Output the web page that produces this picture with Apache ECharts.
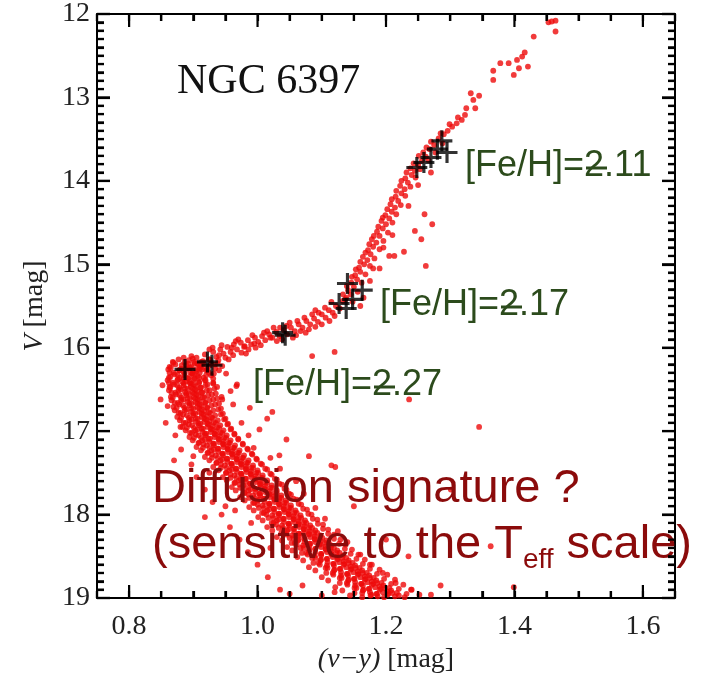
<!DOCTYPE html>
<html><head><meta charset="utf-8">
<script src="https://cdn.jsdelivr.net/npm/echarts@6/dist/echarts.min.js"></script>
<style>html,body{margin:0;padding:0;background:#fff}#c{width:701px;height:679px}</style>
</head><body><div id="c"></div>
<script>
const xMajorTicks=[0.8,1.0,1.2,1.4,1.6];
const xMinorTicks=[0.75,0.85,0.9,0.95,1.05,1.1,1.15,1.25,1.3,1.35,1.45,1.5,1.55,1.65];
const yMajorTicks=[12,13,14,15,16,17,18,19];
const yMinorTicks=[12.1,12.2,12.3,12.4,12.5,12.6,12.7,12.8,12.9,13.1,13.2,13.3,13.4,13.5,13.6,13.7,13.8,13.9,
14.1,14.2,14.3,14.4,14.5,14.6,14.7,14.8,14.9,15.1,15.2,15.3,15.4,15.5,15.6,15.7,15.8,15.9,
16.1,16.2,16.3,16.4,16.5,16.6,16.7,16.8,16.9,17.1,17.2,17.3,17.4,17.5,17.6,17.7,17.8,17.9,
18.1,18.2,18.3,18.4,18.5,18.6,18.7,18.8,18.9];
const xMin=0.75, xMax=1.65, xMinorStep=0.05, yMin=12, yMax=19, yMajorStep=1, yMinorSplit=10;

// main sequence / turnoff (v-y, V)
const mainSequence=[
[0.868,16.17],[0.877,16.14],[0.886,16.18],[0.893,16.15],[0.899,16.13],[0.906,16.19],[0.915,16.16],[0.926,16.14],
[0.863,16.23],[0.872,16.20],[0.881,16.25],[0.889,16.21],[0.895,16.24],[0.902,16.19],[0.911,16.22],[0.921,16.25],[0.934,16.20],
[0.861,16.26],[0.869,16.30],[0.878,16.27],[0.885,16.29],[0.891,16.25],[0.898,16.31],[0.905,16.28],[0.913,16.26],[0.924,16.30],[0.940,16.27],
[0.864,16.35],[0.871,16.32],[0.879,16.36],[0.886,16.33],[0.892,16.37],[0.899,16.31],[0.907,16.34],[0.916,16.36],[0.928,16.33],
[0.860,16.39],[0.868,16.42],[0.876,16.38],[0.883,16.41],[0.889,16.40],[0.895,16.43],[0.902,16.37],[0.909,16.41],[0.918,16.39],[0.931,16.42],
[0.863,16.47],[0.870,16.44],[0.878,16.48],[0.885,16.45],[0.891,16.49],[0.897,16.43],[0.904,16.46],[0.912,16.48],[0.922,16.44],[0.937,16.47],
[0.862,16.51],[0.872,16.54],[0.880,16.50],[0.887,16.53],[0.893,16.55],[0.899,16.49],[0.906,16.52],[0.914,16.54],[0.925,16.51],
[0.865,16.59],[0.873,16.56],[0.881,16.60],[0.889,16.57],[0.895,16.61],[0.901,16.55],[0.908,16.58],[0.917,16.60],[0.929,16.56],[0.944,16.59],
[0.866,16.63],[0.876,16.66],[0.884,16.62],[0.891,16.65],[0.897,16.67],[0.903,16.61],[0.910,16.64],[0.919,16.66],[0.931,16.62],
[0.869,16.71],[0.878,16.68],[0.886,16.72],[0.894,16.69],[0.900,16.73],[0.906,16.67],[0.913,16.70],[0.922,16.72],[0.934,16.68],
[0.871,16.75],[0.880,16.78],[0.889,16.74],[0.896,16.77],[0.903,16.79],[0.909,16.73],[0.917,16.76],[0.926,16.78],[0.939,16.74],
[0.875,16.83],[0.884,16.80],[0.893,16.84],[0.900,16.81],[0.907,16.85],[0.913,16.79],[0.921,16.82],[0.930,16.84],[0.943,16.80],
[0.879,16.87],[0.888,16.90],[0.897,16.86],[0.904,16.89],[0.911,16.91],[0.917,16.85],[0.925,16.88],[0.935,16.90],[0.948,16.86],
[0.883,16.95],[0.893,16.92],[0.901,16.96],[0.909,16.93],[0.915,16.97],[0.922,16.91],[0.930,16.94],[0.940,16.96],[0.953,16.92],
[0.888,16.99],[0.898,17.02],[0.906,16.98],[0.914,17.01],[0.920,17.03],[0.927,16.97],[0.935,17.00],[0.945,17.02],[0.958,16.98],
[0.894,17.07],[0.904,17.04],[0.912,17.08],[0.919,17.05],[0.926,17.09],[0.933,17.03],[0.941,17.06],[0.951,17.08],[0.964,17.04],
[0.899,17.11],[0.909,17.14],[0.918,17.10],[0.925,17.13],[0.932,17.15],[0.939,17.09],[0.947,17.12],[0.957,17.14],[0.970,17.10],
[0.905,17.19],[0.916,17.16],[0.925,17.20],[0.932,17.17],[0.939,17.21],[0.946,17.15],[0.954,17.18],[0.964,17.20],[0.977,17.16],
[0.912,17.23],[0.923,17.26],[0.932,17.22],[0.939,17.25],[0.946,17.27],[0.953,17.21],[0.961,17.24],[0.971,17.26],[0.985,17.22],
[0.918,17.31],[0.929,17.28],[0.938,17.32],[0.946,17.29],[0.953,17.33],[0.960,17.27],[0.968,17.30],[0.978,17.32],[0.992,17.28],
[0.925,17.35],[0.936,17.38],[0.945,17.34],[0.953,17.37],[0.960,17.39],[0.967,17.33],[0.975,17.36],[0.985,17.38],[0.999,17.34],
[0.931,17.43],[0.943,17.40],[0.952,17.44],[0.960,17.41],[0.967,17.45],[0.974,17.39],[0.982,17.42],[0.993,17.44],[1.007,17.40],
[0.939,17.47],[0.951,17.50],[0.960,17.46],[0.968,17.49],[0.975,17.51],[0.982,17.45],[0.990,17.48],[1.001,17.50],[1.015,17.46],
[0.946,17.55],[0.958,17.52],[0.967,17.56],[0.975,17.53],[0.982,17.57],[0.989,17.51],[0.997,17.54],[1.008,17.56],[1.022,17.52],
[0.952,17.59],[0.964,17.62],[0.974,17.58],[0.982,17.61],[0.989,17.63],[0.996,17.57],[1.004,17.60],[1.015,17.62],[1.030,17.58],
[0.960,17.67],[0.972,17.64],[0.982,17.68],[0.990,17.65],[0.997,17.69],[1.004,17.63],[1.012,17.66],[1.023,17.68],[1.038,17.64],
[0.966,17.71],[0.979,17.74],[0.989,17.70],[0.997,17.73],[1.004,17.75],[1.011,17.69],[1.019,17.72],[1.030,17.74],[1.045,17.70],
[0.973,17.79],[0.986,17.76],[0.996,17.80],[1.004,17.77],[1.011,17.81],[1.018,17.75],[1.026,17.78],[1.037,17.80],[1.052,17.76],
[0.980,17.83],[0.993,17.86],[1.003,17.82],[1.011,17.85],[1.019,17.87],[1.026,17.81],[1.034,17.84],[1.045,17.86],[1.061,17.82],
[0.987,17.91],[1.000,17.88],[1.010,17.92],[1.018,17.89],[1.026,17.93],[1.033,17.87],[1.041,17.90],[1.052,17.92],[1.068,17.88],
[0.994,17.95],[1.007,17.98],[1.018,17.94],[1.026,17.97],[1.034,17.99],[1.041,17.93],[1.049,17.96],[1.061,17.98],[1.077,17.94],
[1.001,18.03],[1.014,18.00],[1.025,18.04],[1.033,18.01],[1.041,18.05],[1.048,17.99],[1.056,18.02],[1.068,18.04],[1.084,18.00],
[1.008,18.07],[1.022,18.10],[1.033,18.06],[1.041,18.09],[1.049,18.11],[1.056,18.05],[1.064,18.08],[1.076,18.10],[1.093,18.06],
[1.015,18.15],[1.029,18.12],[1.040,18.16],[1.049,18.13],[1.057,18.17],[1.064,18.11],[1.073,18.14],[1.085,18.16],[1.102,18.12],
[1.023,18.19],[1.037,18.22],[1.048,18.18],[1.057,18.21],[1.065,18.23],[1.072,18.17],[1.081,18.20],[1.093,18.22],[1.110,18.18],
[1.030,18.27],[1.045,18.24],[1.056,18.28],[1.065,18.25],[1.073,18.29],[1.080,18.23],[1.089,18.26],[1.101,18.28],[1.119,18.24],
[1.038,18.31],[1.053,18.34],[1.064,18.30],[1.073,18.33],[1.082,18.35],[1.089,18.29],[1.098,18.32],[1.111,18.34],[1.129,18.30],
[1.046,18.39],[1.061,18.36],[1.072,18.40],[1.081,18.37],[1.090,18.41],[1.097,18.35],[1.106,18.38],[1.119,18.40],[1.137,18.36],
[1.054,18.43],[1.069,18.46],[1.081,18.42],[1.090,18.45],[1.099,18.47],[1.106,18.41],[1.115,18.44],[1.128,18.46],[1.147,18.42],
[1.062,18.51],[1.078,18.48],[1.090,18.52],[1.099,18.49],[1.108,18.53],[1.115,18.47],[1.124,18.50],[1.138,18.52],[1.157,18.48],
[1.071,18.55],[1.087,18.58],[1.099,18.54],[1.109,18.57],[1.118,18.59],[1.125,18.53],[1.134,18.56],[1.148,18.58],[1.167,18.54],
[1.080,18.63],[1.097,18.60],[1.109,18.64],[1.119,18.61],[1.128,18.65],[1.135,18.59],[1.145,18.62],[1.159,18.64],[1.178,18.60],
[1.090,18.67],[1.107,18.70],[1.120,18.66],[1.130,18.69],[1.139,18.71],[1.146,18.65],[1.156,18.68],[1.170,18.70],[1.190,18.66],
[1.100,18.75],[1.118,18.72],[1.131,18.76],[1.141,18.73],[1.150,18.77],[1.157,18.71],[1.167,18.74],[1.181,18.76],[1.202,18.72],
[1.110,18.79],[1.128,18.82],[1.142,18.78],[1.152,18.81],[1.161,18.83],[1.168,18.77],[1.178,18.80],[1.193,18.82],[1.214,18.78],
[1.121,18.87],[1.140,18.84],[1.154,18.88],[1.164,18.85],[1.173,18.89],[1.180,18.83],[1.190,18.86],[1.205,18.88],[1.227,18.84],
[1.132,18.91],[1.151,18.94],[1.165,18.90],[1.175,18.93],[1.185,18.95],[1.192,18.89],[1.202,18.92],[1.217,18.94],[1.239,18.90],
[1.144,18.97],[1.163,18.99],[1.177,18.96],[1.187,18.98],[1.197,18.99],[1.204,18.95],[1.214,18.98],[1.229,18.99],[1.252,18.96]
];
// second pass over the main sequence (denser core)
const mainSequenceCore=[
[0.869,16.18],[0.882,16.21],[0.892,16.19],[0.901,16.17],[0.908,16.20],[0.916,16.18],[0.926,16.21],[0.938,16.19],
[0.865,16.24],[0.878,16.27],[0.888,16.25],[0.897,16.23],[0.904,16.26],[0.912,16.24],[0.922,16.27],[0.934,16.25],
[0.863,16.30],[0.876,16.33],[0.886,16.31],[0.895,16.29],[0.902,16.32],[0.910,16.30],[0.920,16.33],[0.932,16.31],
[0.862,16.36],[0.875,16.39],[0.885,16.37],[0.894,16.35],[0.901,16.38],[0.909,16.36],[0.919,16.39],[0.931,16.37],
[0.862,16.42],[0.875,16.45],[0.885,16.43],[0.894,16.41],[0.901,16.44],[0.909,16.42],[0.919,16.45],[0.931,16.43],
[0.864,16.48],[0.877,16.51],[0.887,16.49],[0.896,16.47],[0.903,16.50],[0.911,16.48],[0.921,16.51],[0.933,16.49],
[0.866,16.54],[0.879,16.57],[0.889,16.55],[0.898,16.53],[0.905,16.56],[0.913,16.54],[0.923,16.57],[0.935,16.55],
[0.868,16.60],[0.881,16.63],[0.891,16.61],[0.900,16.59],[0.907,16.62],[0.915,16.60],[0.925,16.63],[0.937,16.61],
[0.871,16.66],[0.884,16.69],[0.894,16.67],[0.903,16.65],[0.910,16.68],[0.918,16.66],[0.928,16.69],[0.940,16.67],
[0.874,16.72],[0.887,16.75],[0.897,16.73],[0.906,16.71],[0.913,16.74],[0.921,16.72],[0.931,16.75],[0.943,16.73],
[0.877,16.78],[0.890,16.81],[0.900,16.79],[0.909,16.77],[0.916,16.80],[0.924,16.78],[0.934,16.81],[0.946,16.79],
[0.881,16.84],[0.894,16.87],[0.904,16.85],[0.913,16.83],[0.920,16.86],[0.928,16.84],[0.938,16.87],[0.950,16.85],
[0.885,16.90],[0.898,16.93],[0.908,16.91],[0.917,16.89],[0.924,16.92],[0.932,16.90],[0.942,16.93],[0.954,16.91],
[0.890,16.96],[0.903,16.99],[0.913,16.97],[0.922,16.95],[0.929,16.98],[0.937,16.96],[0.947,16.99],[0.959,16.97],
[0.895,17.02],[0.908,17.05],[0.918,17.03],[0.927,17.01],[0.934,17.04],[0.942,17.02],[0.952,17.05],[0.964,17.03],
[0.901,17.08],[0.914,17.11],[0.924,17.09],[0.933,17.07],[0.940,17.10],[0.948,17.08],[0.958,17.11],[0.970,17.09],
[0.908,17.14],[0.921,17.17],[0.931,17.15],[0.940,17.13],[0.947,17.16],[0.955,17.14],[0.965,17.17],[0.977,17.15],
[0.915,17.20],[0.928,17.23],[0.938,17.21],[0.947,17.19],[0.954,17.22],[0.962,17.20],[0.972,17.23],[0.984,17.21],
[0.922,17.26],[0.935,17.29],[0.945,17.27],[0.954,17.25],[0.961,17.28],[0.969,17.26],[0.979,17.29],[0.991,17.27],
[0.929,17.32],[0.942,17.35],[0.952,17.33],[0.961,17.31],[0.968,17.34],[0.976,17.32],[0.986,17.35],[0.998,17.33],
[0.936,17.38],[0.949,17.41],[0.959,17.39],[0.968,17.37],[0.975,17.40],[0.983,17.38],[0.993,17.41],[1.005,17.39],
[0.943,17.44],[0.956,17.47],[0.966,17.45],[0.975,17.43],[0.982,17.46],[0.990,17.44],[1.000,17.47],[1.012,17.45],
[0.951,17.50],[0.964,17.53],[0.974,17.51],[0.983,17.49],[0.990,17.52],[0.998,17.50],[1.008,17.53],[1.020,17.51],
[0.958,17.56],[0.971,17.59],[0.981,17.57],[0.990,17.55],[0.997,17.58],[1.005,17.56],[1.015,17.59],[1.027,17.57],
[0.965,17.62],[0.978,17.65],[0.988,17.63],[0.997,17.61],[1.004,17.64],[1.012,17.62],[1.022,17.65],[1.034,17.63],
[0.973,17.68],[0.986,17.71],[0.996,17.69],[1.005,17.67],[1.012,17.70],[1.020,17.68],[1.030,17.71],[1.042,17.69],
[0.980,17.74],[0.993,17.77],[1.003,17.75],[1.012,17.73],[1.019,17.76],[1.027,17.74],[1.037,17.77],[1.049,17.75],
[0.987,17.80],[1.000,17.83],[1.010,17.81],[1.019,17.79],[1.026,17.82],[1.034,17.80],[1.044,17.83],[1.056,17.81],
[0.995,17.86],[1.008,17.89],[1.018,17.87],[1.027,17.85],[1.034,17.88],[1.042,17.86],[1.052,17.89],[1.064,17.87],
[1.002,17.92],[1.015,17.95],[1.025,17.93],[1.034,17.91],[1.041,17.94],[1.049,17.92],[1.059,17.95],[1.071,17.93],
[1.010,17.98],[1.023,18.01],[1.033,17.99],[1.042,17.97],[1.049,18.00],[1.057,17.98],[1.067,18.01],[1.079,17.99],
[1.017,18.04],[1.030,18.07],[1.040,18.05],[1.049,18.03],[1.056,18.06],[1.064,18.04],[1.074,18.07],[1.086,18.05],
[1.025,18.10],[1.038,18.13],[1.048,18.11],[1.057,18.09],[1.064,18.12],[1.072,18.10],[1.082,18.13],[1.094,18.11],
[1.033,18.16],[1.046,18.19],[1.056,18.17],[1.065,18.15],[1.072,18.18],[1.080,18.16],[1.090,18.19],[1.102,18.17],
[1.041,18.22],[1.054,18.25],[1.064,18.23],[1.073,18.21],[1.080,18.24],[1.088,18.22],[1.098,18.25],[1.110,18.23],
[1.050,18.28],[1.063,18.31],[1.073,18.29],[1.082,18.27],[1.089,18.30],[1.097,18.28],[1.107,18.31],[1.119,18.29],
[1.058,18.34],[1.071,18.37],[1.081,18.35],[1.090,18.33],[1.097,18.36],[1.105,18.34],[1.115,18.37],[1.127,18.35],
[1.067,18.40],[1.080,18.43],[1.090,18.41],[1.099,18.39],[1.106,18.42],[1.114,18.40],[1.124,18.43],[1.136,18.41],
[1.076,18.46],[1.089,18.49],[1.099,18.47],[1.108,18.45],[1.115,18.48],[1.123,18.46],[1.133,18.49],[1.145,18.47],
[1.085,18.52],[1.098,18.55],[1.108,18.53],[1.117,18.51],[1.124,18.54],[1.132,18.52],[1.142,18.55],[1.154,18.53],
[1.095,18.58],[1.108,18.61],[1.118,18.59],[1.127,18.57],[1.134,18.60],[1.142,18.58],[1.152,18.61],[1.164,18.59],
[1.106,18.64],[1.119,18.67],[1.129,18.65],[1.138,18.63],[1.145,18.66],[1.153,18.64],[1.163,18.67],[1.175,18.65],
[1.117,18.70],[1.130,18.73],[1.140,18.71],[1.149,18.69],[1.156,18.72],[1.164,18.70],[1.174,18.73],[1.186,18.71],
[1.128,18.76],[1.141,18.79],[1.151,18.77],[1.160,18.75],[1.167,18.78],[1.175,18.76],[1.185,18.79],[1.197,18.77],
[1.139,18.82],[1.152,18.85],[1.162,18.83],[1.171,18.81],[1.178,18.84],[1.186,18.82],[1.196,18.85],[1.208,18.83],
[1.151,18.88],[1.164,18.91],[1.174,18.89],[1.183,18.87],[1.190,18.90],[1.198,18.88],[1.208,18.91],[1.220,18.89],
[1.163,18.94],[1.176,18.97],[1.186,18.95],[1.195,18.93],[1.202,18.96],[1.210,18.94],[1.220,18.97],[1.232,18.95]
];
// scatter around the main sequence (binaries, errors)
const msScatter=[
[0.852,16.45],[0.849,16.62],[0.857,16.90],[0.951,16.31],[0.958,16.52],[0.962,16.68],[0.968,16.44],[0.975,16.90],[0.872,17.05],[0.881,17.22],
[0.986,17.05],[0.994,17.20],[1.003,16.98],[0.897,17.40],[0.905,17.55],[1.020,17.32],[1.035,17.45],[0.918,17.70],[0.930,17.85],[1.060,17.60],
[1.072,17.75],[0.944,18.00],[0.957,18.15],[1.090,17.92],[1.105,18.05],[0.972,18.30],[0.985,18.45],[1.125,18.20],[1.140,18.33],[1.000,18.60],
[1.016,18.75],[1.160,18.48],[1.175,18.60],[1.035,18.90],[1.050,18.95],[1.195,18.70],[1.215,18.82],[1.240,18.90],[1.270,18.96],[1.285,18.85],
[1.100,18.97],[1.120,18.93],[1.070,18.85],[0.990,18.10],[0.965,17.95],[0.925,17.50],[0.900,17.30],[0.880,16.95],[1.045,17.10],[1.080,17.30],
[1.150,17.90],[1.200,18.30],[1.235,18.50],[0.860,16.70],[0.925,16.02],[0.945,16.62],[1.015,16.85],[0.870,17.35],[0.950,17.90],[1.020,18.40]
];
// subgiant branch
const subgiants=[
[0.905,16.12],[0.912,16.17],[0.918,16.08],[0.924,16.14],[0.931,16.05],[0.936,16.11],[0.942,16.02],[0.947,16.07],[0.953,15.99],[0.958,16.05],
[0.963,15.96],[0.968,16.02],[0.974,15.94],[0.979,15.99],[0.985,15.91],[0.990,15.96],[0.996,15.88],[1.001,15.93],[1.007,15.86],[1.012,15.91],
[1.018,15.84],[1.023,15.88],[1.029,15.81],[1.034,15.86],[1.041,15.79],[1.046,15.84],[1.052,15.76],[1.058,15.80],[1.064,15.72],[1.070,15.76],
[1.076,15.68],[1.082,15.72],[1.088,15.65],[1.094,15.69],[1.100,15.60],[1.106,15.64],[1.111,15.55],[1.117,15.58],[1.122,15.50],[1.128,15.53],
[1.133,15.44],[1.138,15.40],[0.915,16.20],[0.928,16.19],[0.939,16.15],[0.950,16.12],[0.962,16.09],[0.975,16.06],[0.986,16.02],[0.997,16.00],
[0.944,15.97],[0.966,15.92],[0.992,15.85],[1.015,15.80],[1.038,15.90],[1.060,15.85],[1.080,15.78],[1.100,15.72],[1.095,15.58],[1.073,15.64],
[1.050,15.70],[1.025,15.76],
[0.910,16.24],[0.930,16.00],[0.955,16.14],[0.970,15.90],[0.982,16.07],[1.005,15.97],[1.010,15.82],[1.030,15.92],[1.035,15.76],[1.055,15.88],
[1.062,15.68],[1.075,15.82],[1.085,15.60],[1.090,15.75],[1.105,15.52],[1.112,15.68],[1.120,15.62],[0.940,16.09],[0.960,16.00],[0.980,15.98],
[0.995,15.95],[1.020,15.88],[1.045,15.74],[1.067,15.80],[1.090,15.55],[1.115,15.45],[0.920,16.27],[0.945,16.22],[0.897,16.10],[0.885,16.12]
];
// red giant branch
const giants=[
[1.137,15.42],[1.145,15.36],[1.141,15.31],[1.150,15.27],[1.146,15.22],[1.155,15.18],[1.152,15.13],[1.160,15.09],[1.158,15.04],[1.166,15.00],
[1.171,14.95],[1.164,14.91],[1.176,14.88],[1.172,14.83],[1.180,14.79],[1.185,14.74],[1.178,14.70],[1.190,14.66],[1.186,14.61],[1.195,14.57],
[1.200,14.52],[1.193,14.48],[1.205,14.45],[1.199,14.41],[1.209,14.37],[1.214,14.32],[1.207,14.28],[1.219,14.24],[1.215,14.19],[1.224,14.15],
[1.229,14.10],[1.222,14.06],[1.234,14.02],[1.230,13.97],[1.240,13.93],[1.245,13.88],[1.238,13.85],[1.250,13.81],[1.256,13.76],[1.262,13.71],
[1.258,13.66],[1.268,13.62],[1.275,13.57],[1.270,13.53],[1.282,13.49],[1.290,13.44],[1.296,13.40],[1.303,13.35],[1.310,13.31],[1.318,13.27],
[1.323,13.21],[1.325,13.13],[1.339,13.13],[1.336,13.03],[1.345,12.98],[1.332,12.95],[1.367,12.79],[1.367,12.68],[1.378,12.59],[1.391,12.59],
[1.399,12.73],[1.407,12.65],[1.421,12.63],[1.404,12.55],[1.412,12.51],[1.416,12.46],[1.430,12.27],[1.464,12.21],[1.453,12.10],[1.458,12.09],
[1.464,12.08],[1.228,14.85],[1.245,14.60],[1.260,14.40],[1.235,14.30],[1.250,14.05],[1.270,13.90],[1.205,14.90],[1.190,15.05],[1.175,15.20],
[1.165,15.40],[1.160,15.50],[1.210,14.65],[1.196,14.80],[1.180,15.05],
[1.148,15.45],[1.133,15.36],[1.156,15.33],[1.139,15.26],[1.162,15.22],[1.147,15.15],[1.168,15.12],[1.153,15.06],[1.175,15.02],[1.160,14.97],
[1.182,14.93],[1.168,14.86],[1.190,14.82],[1.174,14.76],[1.196,14.72],[1.181,14.66],[1.203,14.62],[1.188,14.55],[1.210,14.50],[1.195,14.44],
[1.216,14.40],[1.202,14.34],[1.223,14.29],[1.209,14.22],[1.230,14.18],[1.216,14.12],[1.238,14.07],[1.224,14.00],[1.246,13.96],[1.232,13.90],
[1.253,13.86],[1.243,13.79],[1.266,13.75],[1.251,13.70],[1.277,13.66],[1.263,13.60],[1.288,13.55],[1.285,13.43],[1.299,13.32],[1.312,13.24],
[1.255,14.70],[1.272,14.52],[1.262,15.02]
];
// isolated field stars
const fieldStars=[
[1.085,16.10],[1.120,16.05],[1.213,14.90],[0.967,16.46],[1.345,16.95],[1.236,16.62],[1.121,17.43],[0.918,18.03],[1.363,18.38],[1.399,18.87],
[1.301,17.70],[1.023,16.77],[0.988,16.72],[1.034,17.29],[1.115,17.41]
];
// spectroscopic targets (crosses)
const targets211=[[1.248,13.84],[1.259,13.78],[1.270,13.72],[1.287,13.52],[1.295,13.66],[1.280,13.62]];
const targets217=[[1.039,15.82],[1.043,15.85],[1.127,15.47],[1.140,15.23],[1.138,15.53],[1.163,15.31],[1.148,15.42]];
const targets227=[[0.887,16.26],[0.922,16.17],[0.929,16.21]];

const serif='"Liberation Serif","Times New Roman",serif';
const sans='"Liberation Sans",Arial,sans-serif';
const red='#ee0a0a', green='#2c4b1c', dark='#8b0b0b';
const plus='path://M0,4.25H10V5.75H0Z M4.25,0H5.75V10H4.25Z';
const majorLen=13, minorLen=7, tickWidth=2.2;

const chart=echarts.init(document.getElementById('c'));
const labelStyle={fontFamily:serif,fontSize:28,color:'#222'};
function lineCfg(){return {show:true,lineStyle:{color:'#000',width:2}};}
function xTick(){return {show:true,inside:true,length:minorLen,lineStyle:{color:'#000',width:tickWidth}};}
function yTick(){return {show:true,inside:true,length:majorLen,lineStyle:{color:'#000',width:tickWidth}};}
function yMinor(){return {show:true,splitNumber:yMinorSplit,length:minorLen,lineStyle:{color:'#000',width:tickWidth}};}

const xAxes=[
  {type:'value',position:'bottom',min:xMin,max:xMax,interval:xMinorStep,axisLine:lineCfg(),axisTick:xTick(),splitLine:{show:false},
   axisLabel:Object.assign({show:true,customValues:xMajorTicks,margin:15,formatter:v=>v.toFixed(1)},labelStyle),
   name:'{i|(v\u2212y)} [mag]',nameLocation:'middle',nameGap:46,
   nameTextStyle:Object.assign({rich:{i:Object.assign({fontStyle:'italic'},labelStyle)}},labelStyle)},
  {type:'value',position:'top',min:xMin,max:xMax,interval:xMinorStep,axisLine:lineCfg(),axisTick:xTick(),splitLine:{show:false},axisLabel:{show:false}}
];
const yAxes=[
  {type:'value',position:'left',inverse:true,min:yMin,max:yMax,interval:yMajorStep,axisLine:lineCfg(),axisTick:yTick(),minorTick:yMinor(),
   splitLine:{show:false},minorSplitLine:{show:false},
   axisLabel:Object.assign({show:true,margin:7},labelStyle),
   name:'{i|V} [mag]',nameLocation:'middle',nameGap:48,nameRotate:90,
   nameTextStyle:Object.assign({rich:{i:Object.assign({fontStyle:'italic'},labelStyle)}},labelStyle)},
  {type:'value',position:'right',inverse:true,min:yMin,max:yMax,interval:yMajorStep,axisLine:lineCfg(),axisTick:yTick(),minorTick:yMinor(),
   splitLine:{show:false},minorSplitLine:{show:false},axisLabel:{show:false}}
];

function redSeries(d){return {type:'scatter',data:d,symbol:'circle',symbolSize:5.8,itemStyle:{color:red},silent:true,z:2};}
function crossSeries(d){return {type:'scatter',data:d,symbol:plus,symbolSize:21,itemStyle:{color:'#000'},silent:true,z:5};}

function feLabel(x,y,txt){
  return [{type:'text',x:x,y:y,z:100,style:{text:txt,font:'36px '+sans,fill:green,verticalAlign:'middle',align:'left'}},
          {type:'line',z:101,shape:{x1:x+121,y1:y+2,x2:x+142,y2:y+2},style:{stroke:green,lineWidth:3}}];
}
const textGraphics=[
  {type:'text',x:177,y:82,z:100,style:{text:'NGC 6397',font:'42px '+serif,fill:'#111',verticalAlign:'middle'}},
  ...feLabel(465,166,'[Fe/H]=2.11'),
  ...feLabel(380,305,'[Fe/H]=2.17'),
  ...feLabel(253,385,'[Fe/H]=2.27'),
  {type:'text',x:152,y:489,z:100,style:{text:'Diffusion signature ?',font:'47px '+sans,fill:dark,verticalAlign:'middle'}},
  {type:'text',x:152,y:545,z:100,style:{text:'{a|(sensitive to the T}{b|eff}{a| scale)}',verticalAlign:'middle',
    rich:{a:{fontSize:47,fontFamily:sans,fill:dark},b:{fontSize:28,fontFamily:sans,fill:dark,padding:[30,0,0,0]}}}}
];

chart.setOption({
  animation:false,
  grid:{left:97,right:26,top:13,bottom:81},
  xAxis:xAxes,yAxis:yAxes,
  series:[redSeries(mainSequence),redSeries(mainSequenceCore),redSeries(msScatter),redSeries(subgiants),redSeries(giants),redSeries(fieldStars),
    crossSeries(targets227),crossSeries(targets217),crossSeries(targets211)]
});

// inward ticks on all four sides, positioned through the chart's own scales (drawn above everything)
const tickGraphics=[];
const finder={xAxisIndex:0,yAxisIndex:0};
function tickLine(x1,y1,x2,y2){
  return {type:'line',z:120,shape:{x1:x1,y1:y1,x2:x2,y2:y2},style:{stroke:'#000',lineWidth:tickWidth}};
}
function addX(vals,len){
  vals.forEach(v=>{
    const b=chart.convertToPixel(finder,[v,yMax]);
    const t=chart.convertToPixel(finder,[v,yMin]);
    if(!b||!t||!isFinite(b[0])) return;
    tickGraphics.push(tickLine(b[0],b[1],b[0],b[1]-len));
    tickGraphics.push(tickLine(t[0],t[1],t[0],t[1]+len));
  });
}
function addY(vals,len){
  vals.forEach(v=>{
    const l=chart.convertToPixel(finder,[xMin,v]);
    const r=chart.convertToPixel(finder,[xMax,v]);
    if(!l||!r||!isFinite(l[1])) return;
    tickGraphics.push(tickLine(l[0],l[1],l[0]+len,l[1]));
    tickGraphics.push(tickLine(r[0],r[1],r[0]-len,r[1]));
  });
}
addX(xMajorTicks,majorLen);addX(xMinorTicks,minorLen);addY(yMajorTicks,majorLen);addY(yMinorTicks,minorLen);
chart.setOption({graphic:textGraphics.concat(tickGraphics)});
</script></body></html>
